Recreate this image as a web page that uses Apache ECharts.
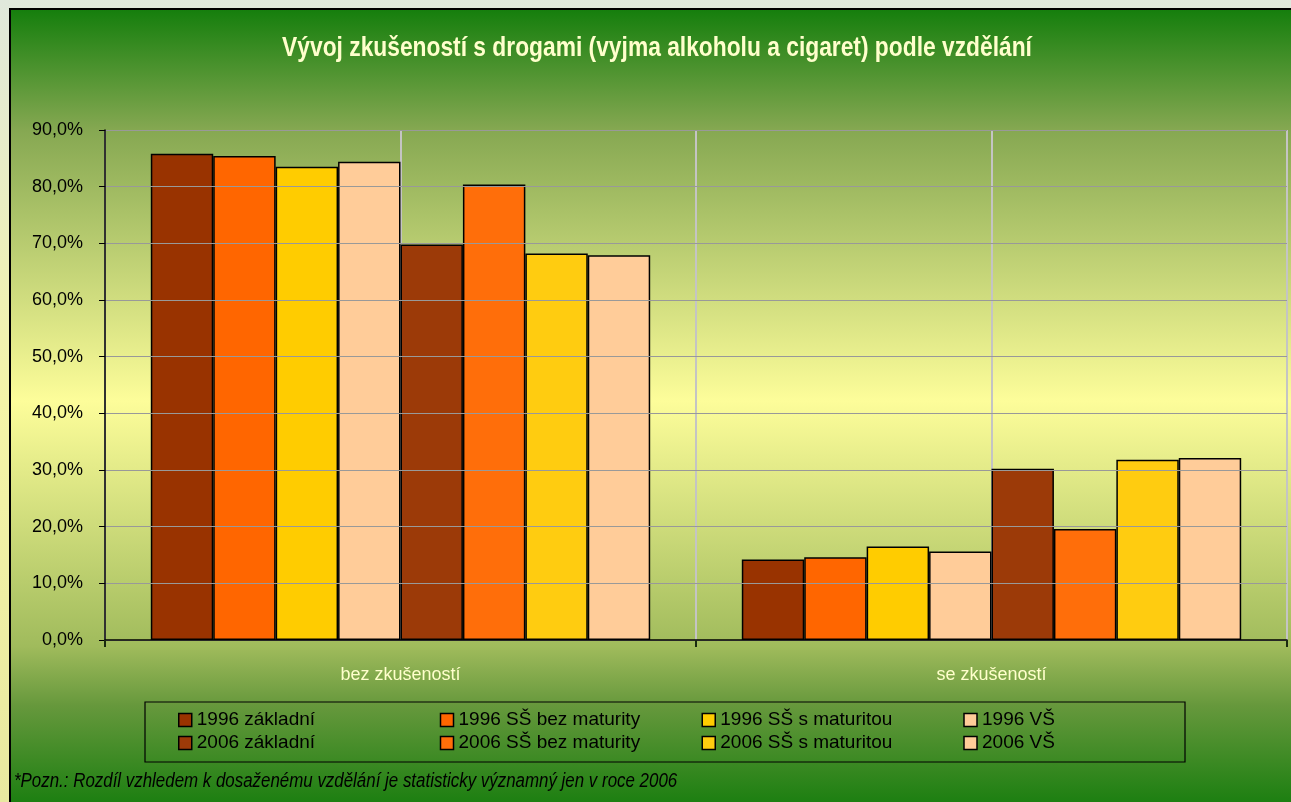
<!DOCTYPE html>
<html>
<head>
<meta charset="utf-8">
<script src="https://cdn.jsdelivr.net/npm/echarts@6/dist/echarts.min.js"></script>
<style>
html,body{margin:0;padding:0;}
#c{width:1291px;height:802px;}
</style>
</head>
<body>
<div id="c"></div>
<script>
var titleText = 'Vývoj zkušeností s drogami (vyjma alkoholu a cigaret) podle vzdělání';
var footnote = '*Pozn.: Rozdíl vzhledem k dosaženému vzdělání je statisticky významný jen v roce 2006';
var categories = ['bez zkušeností', 'se zkušeností'];
var yTicks = [0, 10, 20, 30, 40, 50, 60, 70, 80, 90];
var seriesNames = ['1996 základní', '1996 SŠ bez maturity', '1996 SŠ s maturitou', '1996 VŠ',
                   '2006 základní', '2006 SŠ bez maturity', '2006 SŠ s maturitou', '2006 VŠ'];
var z1996 = [85.8, 14.2];
var sb1996 = [85.4, 14.6];
var sm1996 = [83.5, 16.5];
var vs1996 = [84.4, 15.6];
var z2006 = [69.8, 30.2];
var sb2006 = [80.4, 19.6];
var sm2006 = [68.2, 31.8];
var vs2006 = [67.9, 32.1];
var seriesValues = [z1996, sb1996, sm1996, vs1996, z2006, sb2006, sm2006, vs2006];
var seriesColors = ['#993300', '#ff6600', '#ffcc00', '#ffcc99', '#9c3a08', '#ff6e0a', '#ffcc10', '#ffcc99'];

var FONT = '"Liberation Sans", Arial, sans-serif';

var chart = echarts.init(document.getElementById('c'), null, {renderer: 'canvas'});

var series = seriesNames.map(function (n, i) {
  return {
    name: n,
    type: 'bar',
    xAxisIndex: 0,
    yAxisIndex: 0,
    data: seriesValues[i],
    barGap: '0%',
    barCategoryGap: '15.5%',
    itemStyle: {color: seriesColors[i], borderColor: '#000', borderWidth: 1.5},
    emphasis: {disabled: true},
    z: 3
  };
});

function legendFor(names, top) {
  return {
    data: names.map(function (n) { return {name: n, icon: 'rect'}; }),
    left: 178,
    top: top,
    orient: 'horizontal',
    itemWidth: 13,
    itemHeight: 13,
    itemGap: 12,
    padding: 0,
    selectedMode: false,
    itemStyle: {borderColor: '#000', borderWidth: 1.5},
    textStyle: {fontFamily: FONT, fontSize: 19, color: '#000', width: 231, lineHeight: 22, overflow: 'none'}
  };
}

var option = {
  animation: false,
  backgroundColor: {
    type: 'linear', x: 0, y: 0, x2: 0, y2: 1,
    colorStops: [{offset: 0, color: '#e0e8dc'}, {offset: 0.5, color: '#f4f4a8'}, {offset: 1, color: '#e8e8a0'}]
  },
  graphic: [
    {
      type: 'rect', z: -10, silent: true,
      shape: {x: 10, y: 9, width: 1290, height: 800},
      style: {
        fill: {
          type: 'linear', x: 0, y: 0, x2: 0, y2: 1,
          colorStops: [
            {offset: 0, color: '#147e0c'},
            {offset: 0.153, color: '#86a852'},
            {offset: 0.49, color: '#fdfd9a'},
            {offset: 0.796, color: '#a0bb5c'},
            {offset: 0.87, color: '#66983c'},
            {offset: 1, color: '#177d0e'}
          ]
        },
        stroke: '#000', lineWidth: 2
      }
    },
    {
      type: 'rect', z: 1, silent: true,
      shape: {x: 145, y: 702, width: 1040, height: 60},
      style: {fill: 'none', stroke: '#000', lineWidth: 1.2}
    },
    {
      type: 'text', z: 5, silent: true,
      x: 657, y: 48, scaleX: 0.814,
      style: {text: titleText, x: 0, y: 0, align: 'center', verticalAlign: 'middle',
              font: 'bold 28px ' + FONT, fill: '#ffffcc'}
    },
    {
      type: 'text', z: 5, silent: true,
      x: 14, y: 781, scaleX: 0.845,
      style: {text: footnote, x: 0, y: 0, align: 'left', verticalAlign: 'middle',
              font: 'italic 20px ' + FONT, fill: '#000'}
    }
  ],
  legend: [
    legendFor(seriesNames.slice(0, 4), 709),
    legendFor(seriesNames.slice(4, 8), 732)
  ],
  grid: {left: 105, top: 130, right: 4, bottom: 162, containLabel: false},
  xAxis: [
    {
      type: 'category',
      data: categories,
      boundaryGap: true,
      axisLine: {lineStyle: {color: '#000', width: 1.5}},
      axisTick: {show: true, length: 7, lineStyle: {color: '#1a2a10', width: 2}},
      axisLabel: {fontFamily: FONT, fontSize: 18, color: '#ffffcc', margin: 26},
      splitLine: {show: false},
      z: 4
    },
    {
      type: 'value',
      min: 0, max: 4, interval: 1,
      show: true,
      position: 'top',
      axisLine: {show: false},
      axisTick: {show: false},
      axisLabel: {show: false},
      splitLine: {show: true, lineStyle: {color: '#c4c4c4', width: 2}}
    }
  ],
  yAxis: {
    type: 'value',
    min: yTicks[0],
    max: yTicks[yTicks.length - 1],
    interval: 10,
    axisLine: {show: true, lineStyle: {color: '#000', width: 1.5}},
    axisTick: {show: true, length: 6, lineStyle: {color: '#000'}},
    axisLabel: {
      fontFamily: FONT, fontSize: 18, color: '#000', margin: 22,
      formatter: function (v) { return v.toFixed(1).replace('.', ',') + '%'; }
    },
    splitLine: {show: true, lineStyle: {color: '#999999', width: 1.2}},
    z: 4
  },
  series: series
};
chart.setOption(option);
</script>
</body>
</html>
